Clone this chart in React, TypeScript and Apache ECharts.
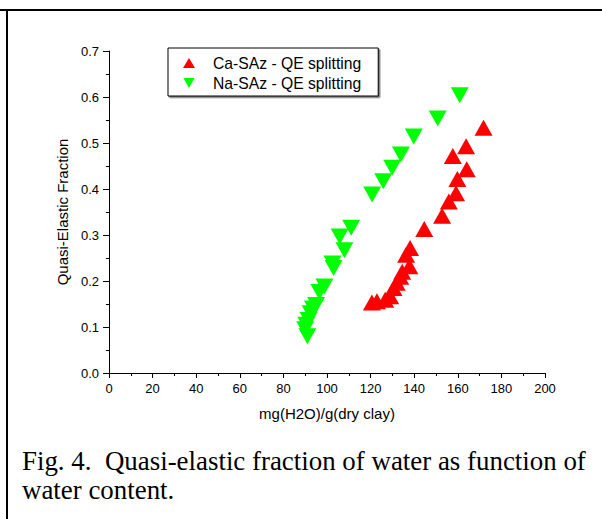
import React, { useEffect, useRef } from "react";
import * as echarts from "echarts";

// Ca-SAz - QE splitting (up triangles, red)
const caWater = [171.8, 163.8, 157.7, 164.1, 159.8, 159.2, 155.9, 152.8, 144.6, 138.1, 136.3, 137.8, 134.5, 133.6, 132.0, 130.5, 129.0, 126.7, 122.9, 120.6];
const caFraction = [0.533, 0.493, 0.472, 0.443, 0.422, 0.391, 0.373, 0.342, 0.313, 0.272, 0.257, 0.232, 0.220, 0.209, 0.196, 0.185, 0.167, 0.159, 0.156, 0.153];

// Na-SAz - QE splitting (down triangles, green)
const naWater = [160.9, 150.8, 139.8, 133.9, 129.9, 125.8, 120.7, 111.1, 105.8, 108.0, 102.5, 103.0, 98.8, 96.5, 95.0, 93.5, 92.5, 91.5, 90.5, 90.0, 91.0];
const naFraction = [0.604, 0.553, 0.514, 0.475, 0.446, 0.417, 0.388, 0.316, 0.297, 0.267, 0.238, 0.228, 0.188, 0.176, 0.148, 0.140, 0.130, 0.115, 0.105, 0.095, 0.080];

const seriesNames = ["Ca-SAz - QE splitting", "Na-SAz - QE splitting"];
const xTitle = "mg(H2O)/g(dry clay)";
const yTitle = "Quasi-Elastic Fraction";
const captionLines = ["Fig. 4.  Quasi-elastic fraction of water as function of", "water content."];

const DOWN_TRI = "path://M0,0L10,0L5,9Z";

export default function App() {
  const ref = useRef<HTMLDivElement>(null);
  useEffect(() => {
    if (!ref.current) return;
    const chart = echarts.init(ref.current, null, { renderer: "svg" });
    const axisFont = { fontFamily: "Liberation Sans, Arial, sans-serif", color: "#000" };
    chart.setOption({
      animation: false,
      backgroundColor: "#fff",
      grid: { left: 109, top: 51, right: 57, bottom: 146, containLabel: false },
      xAxis: {
        type: "value",
        min: 0,
        max: 200,
        interval: 20,
        name: xTitle,
        nameLocation: "middle",
        nameGap: 33,
        nameTextStyle: { ...axisFont, fontSize: 15 },
        axisLine: { onZero: false, lineStyle: { color: "#000", width: 1 } },
        axisTick: { length: 5, lineStyle: { color: "#000" } },
        minorTick: { show: true, splitNumber: 2, length: 3, lineStyle: { color: "#000" } },
        axisLabel: { ...axisFont, fontSize: 13, margin: 9 },
        splitLine: { show: false },
      },
      yAxis: {
        type: "value",
        min: 0,
        max: 0.7,
        interval: 0.1,
        name: yTitle,
        nameLocation: "middle",
        nameGap: 35,
        nameRotate: 90,
        nameTextStyle: { ...axisFont, fontSize: 15 },
        axisLine: { show: true, onZero: false, lineStyle: { color: "#000", width: 1 } },
        axisTick: { show: true, length: 6, lineStyle: { color: "#000" } },
        minorTick: { show: true, splitNumber: 2, length: 3, lineStyle: { color: "#000" } },
        axisLabel: { ...axisFont, fontSize: 13, margin: 10, formatter: (v: number) => v.toFixed(1) },
        splitLine: { show: false },
      },
      legend: {
        left: 168,
        top: 48,
        orient: "vertical",
        backgroundColor: "#fff",
        borderColor: "#000",
        borderWidth: 1,
        shadowColor: "rgba(0,0,0,0.55)",
        shadowOffsetX: 1.5,
        shadowOffsetY: 1.5,
        shadowBlur: 0,
        padding: [7, 17, 5, 15],
        itemGap: 4,
        itemWidth: 12,
        itemHeight: 10,
        textStyle: { ...axisFont, fontSize: 15.7, lineHeight: 15, padding: [0, 0, 0, 13] },
        data: [
          { name: seriesNames[0], icon: "triangle" },
          { name: seriesNames[1], icon: DOWN_TRI },
        ],
      },
      graphic: [
        { type: "rect", shape: { x: 0, y: 9, width: 602, height: 2 }, style: { fill: "#000" }, silent: true },
        { type: "rect", shape: { x: 6, y: 9, width: 2, height: 510 }, style: { fill: "#000" }, silent: true },
        {
          type: "text",
          left: 22,
          top: 446,
          style: {
            text: captionLines.join("\n"),
            fontFamily: "Liberation Serif, Times New Roman, serif",
            fontSize: 26.9,
            lineHeight: 29,
            fill: "#000",
          },
        },
      ],
      series: [
        {
          name: seriesNames[0],
          type: "scatter",
          symbol: "triangle",
          symbolSize: [18, 16],
          itemStyle: { color: "#ff0000", opacity: 1 },
          data: caWater.map((x, i) => [x, caFraction[i]]),
        },
        {
          name: seriesNames[1],
          type: "scatter",
          symbol: "triangle",
          symbolRotate: 180,
          symbolSize: [18, 16],
          itemStyle: { color: "#00ff00", opacity: 1 },
          data: naWater.map((x, i) => [x, naFraction[i]]),
        },
      ],
    });
    return () => chart.dispose();
  }, []);
  return <div ref={ref} style={{ position: "fixed", left: 0, top: 0, width: 602, height: 519 }} />;
}
